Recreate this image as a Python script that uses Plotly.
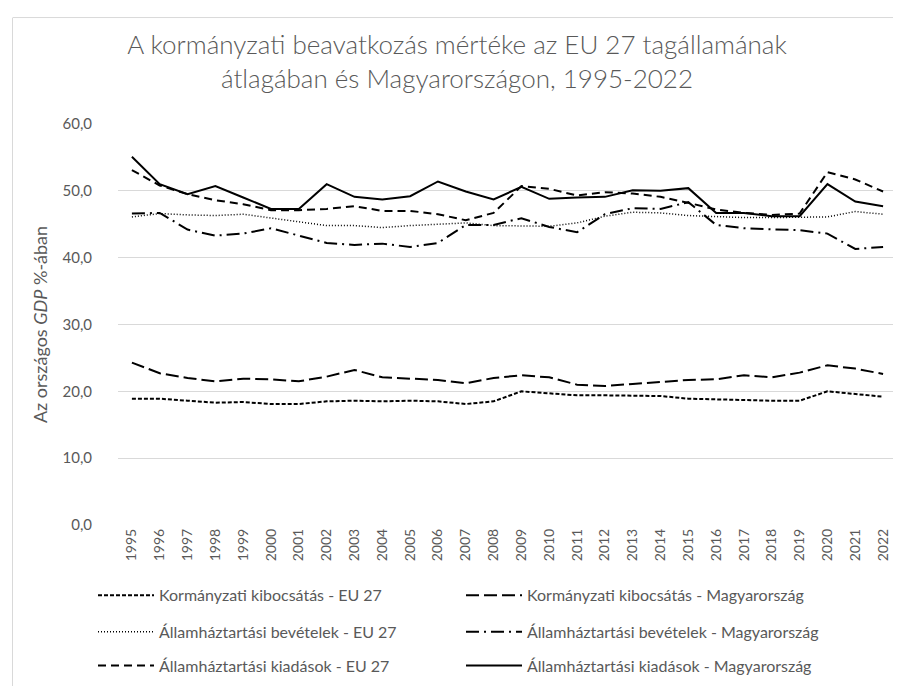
import plotly.graph_objects as go

years = [str(y) for y in range(1995, 2023)]

eu_output = [18.9, 18.9, 18.6, 18.3, 18.4, 18.1, 18.1, 18.5, 18.6, 18.5, 18.6, 18.5, 18.1, 18.5,
             20.0, 19.7, 19.4, 19.4, 19.4, 19.3, 18.9, 18.8, 18.6, 18.6, 18.6, 20.0, 19.6, 19.2]
hu_output = [24.3, 22.7, 22.0, 21.5, 21.9, 21.8, 21.5, 22.2, 23.2, 22.1, 21.9, 21.7, 21.2, 22.0,
             22.4, 22.1, 21.0, 20.8, 21.1, 21.4, 21.7, 21.8, 22.4, 22.1, 22.8, 23.9, 23.4, 22.6]
eu_rev = [46.1, 46.6, 46.4, 46.3, 46.5, 45.9, 45.4, 44.8, 44.8, 44.5, 44.8, 45.0, 45.2, 44.8,
          44.8, 44.7, 45.2, 46.2, 46.8, 46.7, 46.3, 46.1, 46.0, 46.0, 46.0, 46.1, 46.9, 46.5]
hu_rev = [46.6, 46.7, 44.2, 43.3, 43.6, 44.4, 43.3, 42.2, 41.9, 42.1, 41.6, 42.2, 44.9, 44.9,
          45.9, 44.6, 43.8, 46.5, 47.4, 47.3, 48.3, 44.9, 44.4, 44.2, 44.1, 43.6, 41.3, 41.6]
eu_exp = [53.1, 50.8, 49.5, 48.6, 48.0, 47.1, 47.1, 47.3, 47.7, 47.0, 47.0, 46.5, 45.6, 46.7,
          50.7, 50.3, 49.3, 49.8, 49.6, 49.1, 48.2, 47.2, 46.7, 46.4, 46.6, 52.8, 51.7, 49.9]
hu_exp = [55.1, 51.0, 49.5, 50.7, 49.0, 47.3, 47.3, 51.0, 49.1, 48.7, 49.2, 51.4, 49.9, 48.7,
          50.6, 48.8, 49.0, 49.1, 50.1, 50.0, 50.4, 46.7, 46.7, 46.2, 46.2, 51.0, 48.4, 47.7]

y_ticks = [0, 10, 20, 30, 40, 50, 60]
y_tick_labels = ["0,0", "10,0", "20,0", "30,0", "40,0", "50,0", "60,0"]

title_text = ("A kormányzati beavatkozás mértéke az EU 27 tagállamának<br>"
              "átlagában és Magyarországon, 1995-2022")

series = [
    ("Kormányzati kibocsátás - EU 27", eu_output, "4px,2px", 2, "legend"),
    ("Kormányzati kibocsátás - Magyarország", hu_output, "13px,5px", 2, "legend"),
    ("Államháztartási bevételek - EU 27", eu_rev, "1px,2px", 1.5, "legend2"),
    ("Államháztartási bevételek - Magyarország", hu_rev, "13px,5px,2px,5px", 2, "legend2"),
    ("Államháztartási kiadások - EU 27", eu_exp, "8px,5px", 2, "legend3"),
    ("Államháztartási kiadások - Magyarország", hu_exp, "solid", 2, "legend3"),
]

FONT = "Lato"
GRAY = "#595959"

fig = go.Figure()
for name, vals, dash, w, lg in series:
    fig.add_trace(go.Scatter(
        x=years, y=vals, name=name, mode="lines",
        line=dict(color="black", width=w, dash=dash),
        legend=lg,
    ))

W, H = 901, 686
ml, mr, mt, mb = 110, 12, 116, 165
pw = W - ml - mr
ph = H - mt - mb

def px_x(p):
    return (p - ml) / pw

def px_y(p):
    return (H - mb - p) / ph

item_w = 56
legend_common = dict(
    orientation="h", xanchor="left", yanchor="middle",
    font=dict(family=FONT, size=16, color=GRAY),
    itemwidth=item_w, entrywidth=297, entrywidthmode="pixels",
    bgcolor="rgba(0,0,0,0)", traceorder="normal",
)

fig.update_layout(
    width=W, height=H,
    margin=dict(l=ml, r=mr, t=mt, b=mb),
    paper_bgcolor="white", plot_bgcolor="white",
    font=dict(family=FONT, color=GRAY),
    title=dict(text=title_text, x=449 / W, xanchor="center", xref="container",
               y=1 - 46 / H, yanchor="middle", yref="container",
               font=dict(family=FONT, size=26, color=GRAY, weight=300)),
    legend=dict(x=px_x(85), y=px_y(592), **legend_common),
    legend2=dict(x=px_x(85), y=px_y(629), **legend_common),
    legend3=dict(x=px_x(85), y=px_y(663), **legend_common),
    xaxis=dict(type="category", categoryorder="array", categoryarray=years,
               tickmode="array", tickvals=years, ticktext=years,
               tickangle=-90, tickfont=dict(family=FONT, size=14, color=GRAY),
               showgrid=False, showline=False, zeroline=False, ticks="",
               range=[-0.5, len(years) - 0.5]),
    yaxis=dict(range=[0, 60], tickmode="array", tickvals=y_ticks, ticktext=y_tick_labels,
               tickfont=dict(family=FONT, size=15, color=GRAY),
               showgrid=True, gridcolor="#d9d9d9", gridwidth=1,
               zeroline=False, showline=False, ticks="", ticklabelstandoff=25,
               title=dict(text="Az országos <i>GDP</i> %-ában",
                          font=dict(family=FONT, size=18, color=GRAY), standoff=10)),
    showlegend=True,
)

# chart-area border (light gray), extends beyond bottom/right edge like the reference
fig.add_shape(type="line", xref="paper", yref="paper",
              x0=px_x(5), x1=px_x(W + 5), y0=px_y(8.5), y1=px_y(8.5),
              line=dict(color="#d9d9d9", width=1))
fig.add_shape(type="line", xref="paper", yref="paper",
              x0=px_x(4.5), x1=px_x(4.5), y0=px_y(8.5), y1=px_y(H + 5),
              line=dict(color="#d9d9d9", width=1))

fig.write_html("out.html")
